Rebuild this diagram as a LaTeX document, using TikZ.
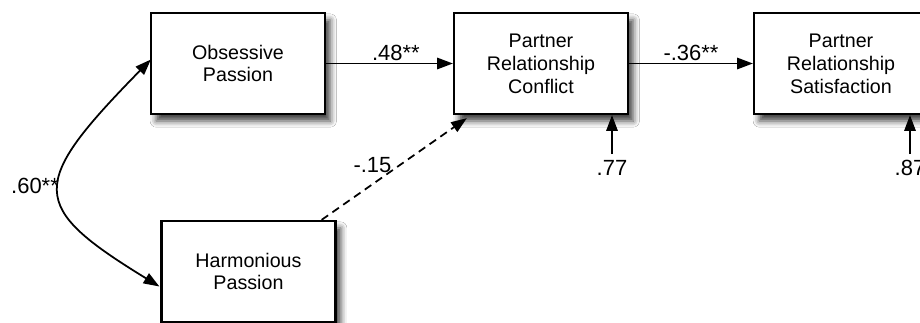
\documentclass[tikz,border=0pt]{standalone}
\usepackage{fontspec}
\setmainfont{Liberation Sans}
\usepackage{tikz}
\usetikzlibrary{arrows.meta, shadows.blur, calc}
\newcommand{\residual}[2]
{
	\draw[path] (#1.north) -- (#1.north |- #2.south)
}

\begin{document}
\begin{tikzpicture}[x=0.02cm, y=-0.02cm, every node/.append style={align=center, font=\fontsize{12.5}{14}\selectfont},
	box/.style={draw, line width=1.3pt, fill=white, minimum width=3.48cm, minimum height=2.02cm, inner sep=0pt,
		font=\fontsize{11.2}{13}\selectfont,
		blur shadow={shadow xshift=3pt, shadow yshift=-4pt, shadow blur radius=3.5pt, shadow opacity=75}},
	path/.style={line width=1pt, -{Triangle[length=9pt, width=6.5pt]}}]
	\clip (0,0) rectangle (920,323);
	\fill[white] (0,0) rectangle (920,323);
	% variables
	\node[box] at (238, 63.5) (obs){Obsessive\\Passion};
	\node[box] at (248.5, 271.5) (harm){Harmonious\\Passion};
	\node[box] at (541, 63.5) (conf){Partner\\Relationship\\Conflict};
	\node[box] at (841, 63.5) (sat){Partner\\Relationship\\Satisfaction};
	% paths
	\draw[path] (obs.east) -- node[pos=0.55, above, inner sep=1pt]{.48**} (conf.west);
	\draw[path] (conf.east) -- node[above, inner sep=1pt]{-.36**} (sat.west);
	\draw[path, dash pattern=on 4.5pt off 3pt] ([shift={(-15,0)}]harm.north east) -- node[pos=0.35, above=6pt, inner sep=0pt]{-.15} ([shift={(14,3)}]conf.south west);
	% correlation
	\draw[path, {Triangle[length=9pt, width=6.5pt]}-{Triangle[length=9pt, width=6.5pt]}] ([shift={(1,-4)}]obs.west) .. controls (28,185) and (28,206) .. ([shift={(-1,15)}]harm.west);
	\node[draw=none] at (35, 186) (cor){.60**};
	% residuals
	\node[draw=none] at (612, 168) (e1){.77};
	\node[draw=none] at (910, 168) (e2){.87};
	\residual{e1}{conf};
	\residual{e2}{sat};
\end{tikzpicture}
\end{document}
